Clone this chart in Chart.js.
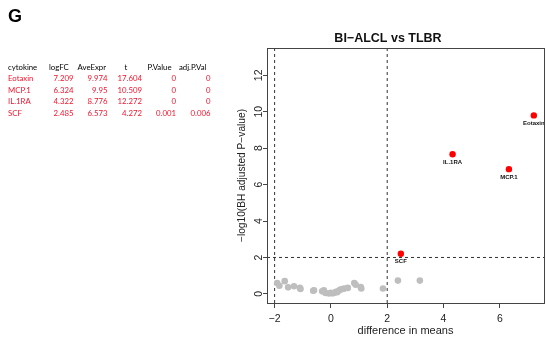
<!DOCTYPE html>
<html>
<head>
<meta charset="utf-8">
<script src="https://cdn.jsdelivr.net/npm/chart.js@4/dist/chart.umd.min.js"></script>
<style>
  body { margin: 0; background: #fff; }
  #wrap { position: relative; width: 548px; height: 341px; }
  #chart { position: absolute; left: 0; top: 0; }
  #panel { position: absolute; left: 8px; top: 6px; font: bold 18px "Liberation Sans", Arial, sans-serif; color: #000; }
  .cell { position: absolute; font: 7.8px Lato, "Liberation Sans", sans-serif; white-space: nowrap; line-height: 10px; }
  .hd { color: #000; }
  .rd { color: #f2142e; }
</style>
</head>
<body>
<div id="wrap">
  <canvas id="chart" width="548" height="341"></canvas>
  <div id="panel">G</div>
  <div id="table"></div>
</div>
<script>
'use strict';
// table values
var cytokines = ['Eotaxin', 'MCP.1', 'IL.1RA', 'SCF'];
var logFC = ['7.209', '6.324', '4.322', '2.485'];
var aveExpr = ['9.974', '9.95', '8.776', '6.573'];
var tStat = ['17.604', '10.509', '12.272', '4.272'];
var pValue = ['0', '0', '0', '0.001'];
var adjPVal = ['0', '0', '0', '0.006'];

// volcano points
var sigX = [7.209, 6.324, 4.322, 2.485];
var sigY = [9.8, 6.85, 7.67, 2.2];
var otherX = [-1.91, -1.83, -1.64, -1.52, -1.31, -1.10, -1.08, -0.63, -0.60, -0.31, -0.25, -0.19, -0.07,
  0.0, 0.05, 0.11, 0.18, 0.22, 0.29, 0.34, 0.41, 0.48, 0.60, 0.83, 0.88, 1.06, 1.08, 1.85, 2.38, 3.16];
var otherY = [0.60, 0.45, 0.70, 0.36, 0.42, 0.33, 0.27, 0.17, 0.20, 0.14, 0.20, 0.05, 0.02,
  0.06, 0.03, 0.05, 0.12, 0.09, 0.18, 0.24, 0.27, 0.29, 0.33, 0.60, 0.50, 0.38, 0.30, 0.30, 0.73, 0.73];
var vLines = [-2, 2];
var hLines = [2];
var xTicks = [-2, 0, 2, 4, 6];
var yTicks = [0, 2, 4, 6, 8, 10, 12];

// build the table
var table = document.getElementById('table');
var headers = ['cytokine', 'logFC', 'AveExpr', 't', 'P.Value', 'adj.P.Val'];
var headLeft = [8, 49, 77.5, 124.5, 147.5, 179];
var colRight = [73.5, 107.5, 142, 176, 210.5];
var rowTop = [61.5, 73, 84.5, 96, 107.5];
function addCell(text, cls, top, left, right){
  var el = document.createElement('div');
  el.className = 'cell ' + cls;
  el.textContent = text;
  el.style.top = top + 'px';
  if (right !== undefined) {
    el.style.right = (548 - right) + 'px';
  } else {
    el.style.left = left + 'px';
  }
  table.appendChild(el);
}
for (var h = 0; h < headers.length; h++) {
  addCell(headers[h], 'hd', rowTop[0], headLeft[h]);
}
var cols = [logFC, aveExpr, tStat, pValue, adjPVal];
for (var r = 0; r < cytokines.length; r++) {
  addCell(cytokines[r], 'rd', rowTop[r + 1], headLeft[0]);
  for (var c = 0; c < cols.length; c++) {
    addCell(cols[c][r], 'rd', rowTop[r + 1], undefined, colRight[c]);
  }
}

var xMin = -2.27, xMax = 7.57, yMin = -0.5, yMax = 13.5;

function pts(xs, ys){
  var out = [];
  for (var i = 0; i < xs.length; i++) out.push({x: xs[i], y: ys[i]});
  return out;
}

var datasets = [];
for (var v = 0; v < vLines.length; v++) {
  datasets.push({type: 'line', data: [{x: vLines[v], y: yMin}, {x: vLines[v], y: yMax}],
    borderColor: '#333', borderWidth: 1, borderDash: [3, 3], pointRadius: 0, order: 3});
}
for (var k = 0; k < hLines.length; k++) {
  datasets.push({type: 'line', data: [{x: xMin, y: hLines[k]}, {x: xMax, y: hLines[k]}],
    borderColor: '#333', borderWidth: 1, borderDash: [3, 3], pointRadius: 0, order: 3});
}
datasets.push({label: 'other', data: pts(otherX, otherY), backgroundColor: '#bebebe',
  borderWidth: 0, pointRadius: 3.3, order: 2});
datasets.push({label: 'sig', data: pts(sigX, sigY), backgroundColor: '#ff0000',
  borderWidth: 0, pointRadius: 3.2, order: 1});

var boxAndLabels = {
  id: 'boxAndLabels',
  afterDatasetsDraw: function(chart){
    var ctx = chart.ctx;
    var a = chart.chartArea;
    ctx.save();
    ctx.strokeStyle = '#444';
    ctx.lineWidth = 1;
    ctx.strokeRect(Math.round(a.left) + 0.5, Math.round(a.top) + 0.5,
      Math.round(a.right - a.left), Math.round(a.bottom - a.top));
    ctx.beginPath();
    ctx.rect(a.left, a.top, a.right - a.left, a.bottom - a.top);
    ctx.clip();
    var meta = chart.getDatasetMeta(chart.data.datasets.length - 1);
    ctx.fillStyle = '#111';
    ctx.font = 'bold 6px "Liberation Sans", Arial, sans-serif';
    ctx.textAlign = 'center';
    ctx.textBaseline = 'middle';
    for (var i = 0; i < meta.data.length; i++) {
      ctx.fillText(cytokines[i], meta.data[i].x, meta.data[i].y + 8);
    }
    ctx.restore();
  }
};

function minus(v){ return String(v).replace('-', '\u2212'); }

new Chart(document.getElementById('chart'), {
  type: 'scatter',
  data: {datasets: datasets},
  plugins: [boxAndLabels],
  options: {
    responsive: false,
    animation: false,
    layout: {padding: {left: 230, right: 2, top: 0, bottom: 0}},
    plugins: {
      legend: {display: false},
      tooltip: {enabled: false},
      title: {
        display: true,
        text: 'BI\u2212ALCL vs TLBR',
        color: '#111',
        font: {family: '"Liberation Sans", Arial, sans-serif', size: 12.5, weight: 'bold'},
        padding: {top: 31.5, bottom: 1.5}
      }
    },
    scales: {
      x: {
        type: 'linear', min: xMin, max: xMax,
        afterBuildTicks: function(s){ s.ticks = xTicks.map(function(v){ return {value: v}; }); },
        afterFit: function(s){ s.height = 38; },
        grid: {drawOnChartArea: false, drawTicks: true, tickLength: 5, color: '#444'},
        border: {display: false},
        ticks: {color: '#222', padding: 4.5, callback: minus,
          font: {family: '"Liberation Sans", Arial, sans-serif', size: 10.5}},
        title: {display: true, text: 'difference in means', color: '#222', padding: {top: 0, bottom: 3.5},
          font: {family: '"Liberation Sans", Arial, sans-serif', size: 11}}
      },
      y: {
        type: 'linear', min: yMin, max: yMax,
        afterBuildTicks: function(s){ s.ticks = yTicks.map(function(v){ return {value: v}; }); },
        afterFit: function(s){ s.width = 37; },
        grid: {drawOnChartArea: false, drawTicks: true, tickLength: 4, color: '#444'},
        border: {display: false},
        ticks: {color: '#222', padding: -2, minRotation: 90, maxRotation: 90, crossAlign: 'center',
          font: {family: '"Liberation Sans", Arial, sans-serif', size: 10.5}},
        title: {display: true, text: '\u2212log10(BH adjusted P\u2212value)', color: '#222', padding: {top: 6, bottom: 0},
          font: {family: '"Liberation Sans", Arial, sans-serif', size: 10.2}}
      }
    }
  }
});
</script>
</body>
</html>
